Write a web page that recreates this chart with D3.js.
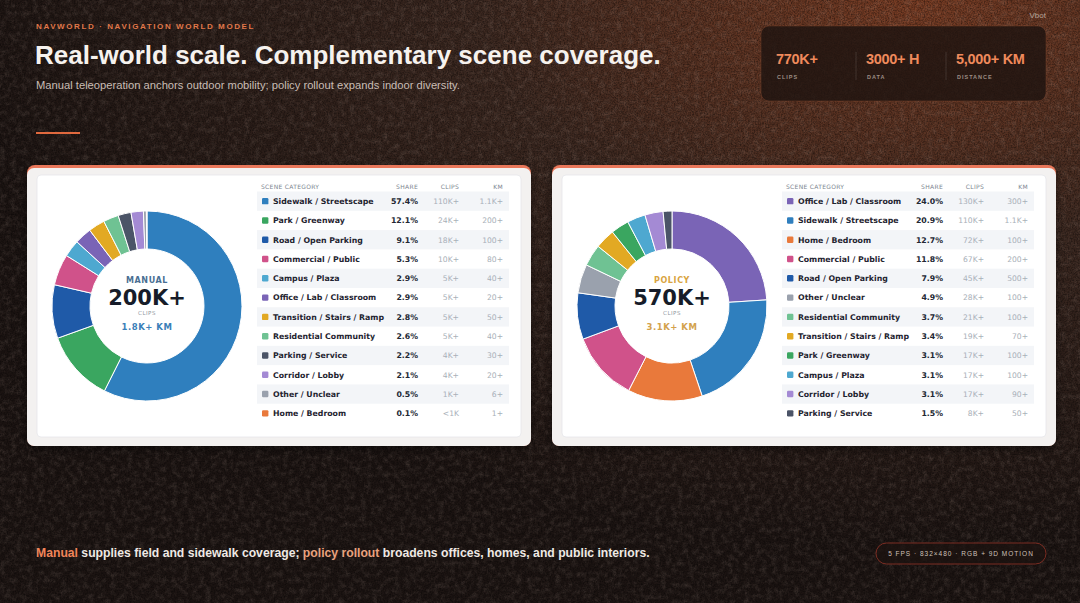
<!DOCTYPE html>
<html>
<head>
<meta charset="utf-8">
<script src="https://cdn.jsdelivr.net/npm/d3@7"></script>
<style>
  html, body { margin: 0; padding: 0; background: #1d1512; }
  svg { display: block; }
</style>
</head>
<body>
<svg id="chart" width="1080" height="603"></svg>
<script>
// ---- data ----
var manualCats = ["Sidewalk / Streetscape", "Park / Greenway", "Road / Open Parking", "Commercial / Public",
  "Campus / Plaza", "Office / Lab / Classroom", "Transition / Stairs / Ramp", "Residential Community",
  "Parking / Service", "Corridor / Lobby", "Other / Unclear", "Home / Bedroom"];
var manualShare = [57.4, 12.1, 9.1, 5.3, 2.9, 2.9, 2.8, 2.6, 2.2, 2.1, 0.5, 0.1];
var manualClips = ["110K+", "24K+", "18K+", "10K+", "5K+", "5K+", "5K+", "5K+", "4K+", "4K+", "1K+", "<1K"];
var manualKm = ["1.1K+", "200+", "100+", "80+", "40+", "20+", "50+", "40+", "30+", "20+", "6+", "1+"];

var policyCats = ["Office / Lab / Classroom", "Sidewalk / Streetscape", "Home / Bedroom", "Commercial / Public",
  "Road / Open Parking", "Other / Unclear", "Residential Community", "Transition / Stairs / Ramp",
  "Park / Greenway", "Campus / Plaza", "Corridor / Lobby", "Parking / Service"];
var policyShare = [24.0, 20.9, 12.7, 11.8, 7.9, 4.9, 3.7, 3.4, 3.1, 3.1, 3.1, 1.5];
var policyClips = ["130K+", "110K+", "72K+", "67K+", "45K+", "28K+", "21K+", "19K+", "17K+", "17K+", "17K+", "8K+"];
var policyKm = ["300+", "1.1K+", "100+", "200+", "500+", "100+", "100+", "70+", "100+", "100+", "90+", "50+"];

var categoryColors = {
  "Sidewalk / Streetscape": "#2f7fbe",
  "Park / Greenway": "#3aa660",
  "Road / Open Parking": "#1f5aa8",
  "Commercial / Public": "#d0528a",
  "Campus / Plaza": "#4ea8d0",
  "Office / Lab / Classroom": "#7a64b6",
  "Transition / Stairs / Ramp": "#e2a923",
  "Residential Community": "#6fc293",
  "Parking / Service": "#4b5467",
  "Corridor / Lobby": "#a48ad4",
  "Other / Unclear": "#9aa1ad",
  "Home / Bedroom": "#e9793b"
};

var headlineValues = ["770K+", "3000+ H", "5,000+ KM"];
var headlineLabels = ["CLIPS", "DATA", "DISTANCE"];

var panels = [
  { key: "MANUAL", total: "200K+", km: "1.8K+ KM", accent: "#4a6f93", kmColor: "#3a80b8",
    cats: manualCats, share: manualShare, clips: manualClips, km2: manualKm },
  { key: "POLICY", total: "570K+", km: "3.1K+ KM", accent: "#d9a441", kmColor: "#d3a24c",
    cats: policyCats, share: policyShare, clips: policyClips, km2: policyKm }
];

var svg = d3.select("#chart");
var defs = svg.append("defs");

// background gradient + grain
var bg = defs.append("radialGradient").attr("id", "bgGlow")
  .attr("cx", "0.85").attr("cy", "0").attr("r", "0.9");
bg.append("stop").attr("offset", "0%").attr("stop-color", "#7a3d24");
bg.append("stop").attr("offset", "45%").attr("stop-color", "#3c2820");
bg.append("stop").attr("offset", "100%").attr("stop-color", "#1c1412");

var grain = defs.append("filter").attr("id", "grain").attr("x", 0).attr("y", 0).attr("width", "100%").attr("height", "100%");
grain.append("feTurbulence").attr("type", "fractalNoise").attr("baseFrequency", "0.7").attr("numOctaves", 2).attr("seed", 4);
grain.append("feColorMatrix").attr("type", "matrix")
  .attr("values", "0 0 0 0 0  0 0 0 0 0  0 0 0 0 0  0 0 0 0.9 -0.3");

var speck = defs.append("filter").attr("id", "speck").attr("x", 0).attr("y", 0).attr("width", "100%").attr("height", "100%");
speck.append("feTurbulence").attr("type", "fractalNoise").attr("baseFrequency", "0.18").attr("numOctaves", 3).attr("seed", 11);
speck.append("feColorMatrix").attr("type", "matrix")
  .attr("values", "0 0 0 0 0.55  0 0 0 0 0.42  0 0 0 0 0.36  0 0 0 1.2 -0.5");

var shadow = defs.append("filter").attr("id", "shadow").attr("x", "-10%").attr("y", "-10%").attr("width", "120%").attr("height", "130%");
shadow.append("feDropShadow").attr("dx", 0).attr("dy", 3).attr("stdDeviation", 5)
  .attr("flood-color", "#000").attr("flood-opacity", 0.45);

svg.append("rect").attr("width", 1080).attr("height", 603).attr("fill", "url(#bgGlow)");
svg.append("rect").attr("width", 1080).attr("height", 603).attr("filter", "url(#speck)").attr("opacity", 0.3);
svg.append("rect").attr("width", 1080).attr("height", 603).attr("filter", "url(#grain)");

// ---- header ----
var sans = "'Liberation Sans', Arial, sans-serif";
var dv = "'DejaVu Sans', sans-serif";

svg.append("text").attr("x", 36).attr("y", 29)
  .attr("font-family", sans).attr("font-weight", 700).attr("font-size", 8)
  .attr("letter-spacing", 1.6).attr("fill", "#e0784a")
  .text("NAVWORLD · NAVIGATION WORLD MODEL");

svg.append("text").attr("x", 35).attr("y", 64)
  .attr("font-family", sans).attr("font-weight", 700).attr("font-size", 26)
  .attr("letter-spacing", 0).attr("fill", "#f6f2ee")
  .text("Real-world scale. Complementary scene coverage.");

svg.append("text").attr("x", 36).attr("y", 89)
  .attr("font-family", sans).attr("font-size", 11.2).attr("fill", "#c9bdb5")
  .text("Manual teleoperation anchors outdoor mobility; policy rollout expands indoor diversity.");

svg.append("rect").attr("x", 36).attr("y", 132).attr("width", 44).attr("height", 2)
  .attr("fill", "#e0693e");

svg.append("text").attr("x", 1046).attr("y", 18).attr("text-anchor", "end")
  .attr("font-family", sans).attr("font-size", 8).attr("fill", "#b9a79c").text("Vbot");

// stats box
var stats = svg.append("g");
stats.append("rect").attr("x", 761).attr("y", 26).attr("width", 285).attr("height", 75).attr("rx", 8)
  .attr("fill", "#1e1310").attr("fill-opacity", 0.82)
  .attr("stroke", "#8a4a30").attr("stroke-opacity", 0.35);
var statX = d3.scalePoint().domain(headlineValues).range([776, 956]);
headlineValues.forEach(function(v, i) {
  stats.append("text").attr("x", statX(v)).attr("y", 64)
    .attr("font-family", sans).attr("font-weight", 700).attr("font-size", 14.5)
    .attr("letter-spacing", -0.3).attr("fill", "#f08a5c").text(v);
  stats.append("text").attr("x", statX(v) + 1).attr("y", 79)
    .attr("font-family", sans).attr("font-weight", 700).attr("font-size", 5.5)
    .attr("letter-spacing", 1).attr("fill", "#9d8d84").text(headlineLabels[i]);
  if (i > 0) {
    stats.append("line").attr("x1", statX(v) - 10).attr("x2", statX(v) - 10)
      .attr("y1", 52).attr("y2", 80).attr("stroke", "#ffffff").attr("stroke-opacity", 0.12);
  }
});

// ---- panels ----
var arc = d3.arc().innerRadius(57).outerRadius(95);
var pie = d3.pie().sort(null).value(function(d) { return d.share; });

panels.forEach(function(p, pi) {
  var ox = pi * 525;
  var g = svg.append("g").attr("transform", "translate(" + ox + ",0)");

  // card frame
  g.append("rect").attr("x", 27).attr("y", 165).attr("width", 504).attr("height", 281).attr("rx", 8)
    .attr("fill", "#e9775a").attr("filter", "url(#shadow)");
  g.append("rect").attr("x", 27).attr("y", 168).attr("width", 504).attr("height", 278).attr("rx", 7)
    .attr("fill", "#f3f1f0");
  g.append("rect").attr("x", 37).attr("y", 175).attr("width", 484).attr("height", 262).attr("rx", 4)
    .attr("fill", "#ffffff").attr("stroke", "#e6e6ea").attr("stroke-width", 0.8);

  var rows = p.cats.map(function(c, i) {
    return { cat: c, share: p.share[i], clips: p.clips[i], km: p.km2[i] };
  });

  // donut
  var donut = g.append("g").attr("transform", "translate(147,306)");
  donut.selectAll("path").data(pie(rows)).enter().append("path")
    .attr("d", arc)
    .attr("fill", function(d) { return categoryColors[d.data.cat]; })
    .attr("stroke", "#ffffff").attr("stroke-width", 1);

  donut.append("text").attr("y", -23).attr("text-anchor", "middle")
    .attr("font-family", dv).attr("font-weight", 700).attr("font-size", 8)
    .attr("letter-spacing", 0.6).attr("fill", p.accent).text(p.key);
  donut.append("text").attr("y", -1).attr("text-anchor", "middle")
    .attr("font-family", dv).attr("font-weight", 700).attr("font-size", 21)
    .attr("fill", "#161c29").text(p.total);
  donut.append("text").attr("y", 9).attr("text-anchor", "middle")
    .attr("font-family", dv).attr("font-size", 5.5).attr("letter-spacing", 0.5)
    .attr("fill", "#8f96a0").text("CLIPS");
  donut.append("text").attr("y", 24).attr("text-anchor", "middle")
    .attr("font-family", dv).attr("font-weight", 700).attr("font-size", 8.5)
    .attr("letter-spacing", 0.5).attr("fill", p.kmColor).text(p.km);

  // table
  var y = d3.scaleBand().domain(d3.range(rows.length)).range([191.5, 423]);
  var colShare = 418, colClips = 459, colKm = 503;

  var hdr = g.append("g").attr("font-family", dv).attr("font-size", 6)
    .attr("fill", "#7d858f").attr("letter-spacing", 0.3);
  hdr.append("text").attr("x", 261).attr("y", 189).text("SCENE CATEGORY");
  hdr.append("text").attr("x", colShare).attr("y", 189).attr("text-anchor", "end").text("SHARE");
  hdr.append("text").attr("x", colClips).attr("y", 189).attr("text-anchor", "end").text("CLIPS");
  hdr.append("text").attr("x", colKm).attr("y", 189).attr("text-anchor", "end").text("KM");

  var row = g.selectAll(".row").data(rows).enter().append("g")
    .attr("class", "row")
    .attr("transform", function(d, i) { return "translate(0," + y(i) + ")"; });

  row.filter(function(d, i) { return i % 2 === 0; }).append("rect")
    .attr("x", 257).attr("y", 0).attr("width", 252).attr("height", y.bandwidth())
    .attr("fill", "#f3f5f8");

  var mid = y.bandwidth() / 2;
  row.append("rect").attr("x", 262).attr("y", mid - 3.2).attr("width", 6.4).attr("height", 6.4).attr("rx", 1.2)
    .attr("fill", function(d) { return categoryColors[d.cat]; });
  row.append("text").attr("x", 273).attr("y", mid + 2.8)
    .attr("font-family", dv).attr("font-weight", 700).attr("font-size", 7.8)
    .attr("fill", "#1f2430").text(function(d) { return d.cat; });
  row.append("text").attr("x", colShare).attr("y", mid + 2.8).attr("text-anchor", "end")
    .attr("font-family", dv).attr("font-weight", 700).attr("font-size", 7.8)
    .attr("fill", "#222733").text(function(d) { return d.share.toFixed(1) + "%"; });
  row.append("text").attr("x", colClips).attr("y", mid + 2.8).attr("text-anchor", "end")
    .attr("font-family", dv).attr("font-size", 7.6)
    .attr("fill", "#a8afb8").text(function(d) { return d.clips; });
  row.append("text").attr("x", colKm).attr("y", mid + 2.8).attr("text-anchor", "end")
    .attr("font-family", dv).attr("font-size", 7.6)
    .attr("fill", "#a8afb8").text(function(d) { return d.km; });
});

// ---- footer ----
var foot = svg.append("text").attr("x", 36).attr("y", 557)
  .attr("font-family", sans).attr("font-weight", 700).attr("font-size", 12.2)
  .attr("fill", "#efe9e4");
foot.append("tspan").attr("fill", "#f0855a").text("Manual");
foot.append("tspan").text(" supplies field and sidewalk coverage; ");
foot.append("tspan").attr("fill", "#e9a27e").text("policy rollout");
foot.append("tspan").text(" broadens offices, homes, and public interiors.");

svg.append("rect").attr("x", 876).attr("y", 543).attr("width", 170).attr("height", 21).attr("rx", 10.5)
  .attr("fill", "#1d1210").attr("fill-opacity", 0.7)
  .attr("stroke", "#7a2c22").attr("stroke-width", 1);
svg.append("text").attr("x", 961).attr("y", 556).attr("text-anchor", "middle")
  .attr("font-family", sans).attr("font-size", 6.5).attr("letter-spacing", 1)
  .attr("fill", "#cfc1b8").text("5 FPS · 832×480 · RGB + 9D MOTION");
</script>
</body>
</html>
